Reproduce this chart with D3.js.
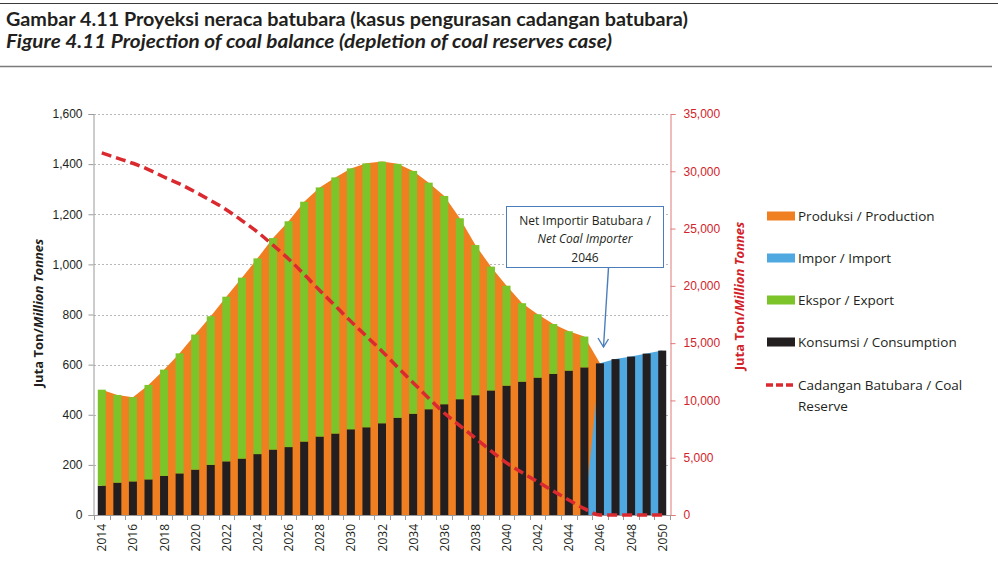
<!DOCTYPE html>
<html>
<head>
<meta charset="utf-8">
<script src="https://cdn.jsdelivr.net/npm/d3@7"></script>
<style>
  body { margin: 0; background: #fff; }
  svg { display: block; font-family: "Open Sans", sans-serif; }
  .title { font-family: Lato, "Open Sans", sans-serif; font-weight: bold; fill: #231f20; }
  .axis-left text, .axis-x text { fill: #231f20; font-size: 12px; }
  .axis-right text { fill: #d2232a; font-size: 12px; }
  .legend text { font-size: 13.5px; fill: #231f20; }
  .note text { font-size: 12px; fill: #231f20; }
</style>
</head>
<body>
<div id="chart"></div>
<script>
const WIDTH = 998;
const HEIGHT = 572;

const years = [2014, 2015, 2016, 2017, 2018, 2019, 2020, 2021, 2022, 2023, 2024, 2025,
    2026, 2027, 2028, 2029, 2030, 2031, 2032, 2033, 2034, 2035, 2036, 2037, 2038,
    2039, 2040, 2041, 2042, 2043, 2044, 2045, 2046, 2047, 2048, 2049, 2050];

// juta ton
const consumption = [117, 129, 134, 142, 156, 166, 181, 200, 214, 225, 243, 261,
    271, 293, 313, 325, 342, 350, 366, 388, 404, 422, 442, 462, 478,
    497, 516, 532, 548, 563, 576, 589, 605, 622, 632, 644, 656];
const exportVals = [383, 350, 336, 377, 424, 479, 539, 593, 657, 722, 781, 844,
    901, 957, 994, 1022, 1041, 1053, 1044, 1013, 969, 904, 831, 722, 599,
    494, 399, 313, 253, 199, 157, 123, 0, 0, 0, 0, 0];
const production = [500, 479, 470, 519, 580, 645, 720, 793, 871, 947, 1024, 1105,
    1172, 1250, 1307, 1347, 1383, 1403, 1410, 1401, 1373, 1326, 1273, 1184, 1077,
    991, 915, 845, 801, 762, 733, 712, 605, 0, 0, 0, 0];
const importVals = [0, 0, 0, 0, 0, 0, 0, 0, 0, 0, 0, 0,
    0, 0, 0, 0, 0, 0, 0, 0, 0, 0, 0, 0, 0,
    0, 0, 0, 0, 0, 0, 0, 605, 622, 632, 644, 656];
// cadangan, juta ton (sumbu kanan)
const reserve = [31600, 31150, 30700, 30150, 29500, 28900, 28200, 27450, 26650, 25700, 24700, 23550,
    22350, 21000, 19600, 18250, 16900, 15600, 14300, 12900, 11550, 10200, 8900, 7800, 6700,
    5600, 4550, 3700, 2900, 2100, 1300, 550, 0, 0, 0, 0, 0];

const leftTicks = [0, 200, 400, 600, 800, 1000, 1200, 1400, 1600];
const rightTicks = [0, 5000, 10000, 15000, 20000, 25000, 30000, 35000];

const legendItems = [
    {label: "Produksi / Production", color: "#f07f21", type: "box"},
    {label: "Impor / Import", color: "#4fa8df", type: "box"},
    {label: "Ekspor / Export", color: "#7dc42a", type: "box"},
    {label: "Konsumsi / Consumption", color: "#231f20", type: "box"},
    {label: ["Cadangan Batubara / Coal", "Reserve"], color: "#da2a2f", type: "line"}
];

const COLORS = {
    production: "#f07f21",
    import: "#4fa8df",
    export: "#7dc42a",
    consumption: "#231f20",
    reserve: "#da2a2f"
};

const PLOT = {left: 94, right: 670, top: 114, bottom: 515};

const rows = years.map((year, i) => ({
    year,
    consumption: consumption[i],
    export: exportVals[i],
    production: production[i],
    import: importVals[i],
    reserve: reserve[i]
}));

const svg = d3.select("#chart").append("svg")
    .attr("width", WIDTH)
    .attr("height", HEIGHT);

// header
svg.append("line")
    .attr("x1", 0).attr("x2", WIDTH)
    .attr("y1", 3.5).attr("y2", 3.5)
    .attr("stroke", "#3a3a3a").attr("stroke-width", 1.2);
svg.append("line")
    .attr("x1", 0).attr("x2", 992)
    .attr("y1", 66.5).attr("y2", 66.5)
    .attr("stroke", "#7a7a7a").attr("stroke-width", 1.5);

svg.append("text")
    .attr("class", "title")
    .attr("x", 6).attr("y", 25.5)
    .attr("font-size", 18.5)
    .attr("textLength", 682)
    .attr("lengthAdjust", "spacingAndGlyphs")
    .text("Gambar 4.11 Proyeksi neraca batubara (kasus pengurasan cadangan batubara)");
svg.append("text")
    .attr("class", "title")
    .attr("x", 6).attr("y", 47.5)
    .attr("font-size", 18.5)
    .attr("font-style", "italic")
    .attr("textLength", 606)
    .attr("lengthAdjust", "spacingAndGlyphs")
    .text("Figure 4.11 Projection of coal balance (depletion of coal reserves case)");

// scales
const x = d3.scaleBand()
    .domain(years)
    .range([PLOT.left, PLOT.right])
    .paddingInner(0.486)
    .paddingOuter(0.243);
const xc = d => x(d) + x.bandwidth() / 2;

const y = d3.scaleLinear().domain([0, 1600]).range([PLOT.bottom, PLOT.top]);
const yR = d3.scaleLinear().domain([0, 35000]).range([PLOT.bottom, PLOT.top]);

// gridlines
svg.append("g").attr("class", "grid")
    .selectAll("line")
    .data(leftTicks.filter(d => d > 0))
    .join("line")
    .attr("x1", PLOT.left).attr("x2", PLOT.right)
    .attr("y1", d => Math.round(y(d)) + 0.5)
    .attr("y2", d => Math.round(y(d)) + 0.5)
    .attr("stroke", "#b8b8b8")
    .attr("stroke-dasharray", "2,2");

// areas
const area = key => d3.area()
    .x(d => xc(d.year))
    .y0(y(0))
    .y1(d => y(d[key]));

svg.append("path")
    .datum(rows)
    .attr("fill", COLORS.production)
    .attr("d", area("production"));
svg.append("path")
    .datum(rows)
    .attr("fill", COLORS.import)
    .attr("d", area("import"));

// stacked bars
const stack = d3.stack().keys(["consumption", "export"]);
const series = stack(rows);

svg.append("g").attr("class", "bars")
    .selectAll("g")
    .data(series)
    .join("g")
    .attr("fill", d => COLORS[d.key])
    .selectAll("rect")
    .data(d => d.filter(p => p[1] > p[0]))
    .join("rect")
    .attr("x", d => x(d.data.year))
    .attr("width", x.bandwidth())
    .attr("y", d => y(d[1]))
    .attr("height", d => y(d[0]) - y(d[1]));

// axes
const gLeft = svg.append("g")
    .attr("class", "axis-left")
    .attr("transform", "translate(" + (PLOT.left - 0.5) + ",0)")
    .call(d3.axisLeft(y).tickValues(leftTicks).tickSize(5).tickPadding(6).tickFormat(d3.format(",")));
gLeft.select(".domain").attr("stroke", "#9a9a9a");
gLeft.selectAll(".tick line").attr("stroke", "#9a9a9a");
gLeft.selectAll("text").attr("font-size", 12);

const gRight = svg.append("g")
    .attr("class", "axis-right")
    .attr("transform", "translate(" + (PLOT.right + 0.5) + ",0)")
    .call(d3.axisRight(yR).tickValues(rightTicks).tickSize(5).tickPadding(8).tickFormat(d3.format(",")));
gRight.select(".domain").attr("stroke", "#e07a7a");
gRight.selectAll(".tick line").attr("stroke", "#e07a7a");
gRight.selectAll("text").attr("font-size", 12);

// x axis: garis, tick di batas kategori, label tahun genap
const gx = svg.append("g").attr("class", "axis-x");
gx.append("line")
    .attr("x1", PLOT.left - 5).attr("x2", PLOT.right)
    .attr("y1", PLOT.bottom + 0.5).attr("y2", PLOT.bottom + 0.5)
    .attr("stroke", "#9a9a9a");
const bounds = years.map(d => xc(d) - x.step() / 2).concat([xc(years[years.length - 1]) + x.step() / 2]);
gx.selectAll("line.tick")
    .data(bounds)
    .join("line")
    .attr("class", "tick")
    .attr("x1", d => Math.round(d) + 0.5).attr("x2", d => Math.round(d) + 0.5)
    .attr("y1", PLOT.bottom).attr("y2", PLOT.bottom + 5)
    .attr("stroke", "#9a9a9a");
gx.selectAll("text")
    .data(years.filter(d => d % 2 === 0))
    .join("text")
    .attr("transform", d => "translate(" + (xc(d) + 4.5) + "," + (PLOT.bottom + 9) + ") rotate(-90)")
    .attr("text-anchor", "end")
    .attr("font-size", 12)
    .text(d => d);

// cadangan
svg.append("path")
    .datum(rows)
    .attr("fill", "none")
    .attr("stroke", COLORS.reserve)
    .attr("stroke-width", 3.5)
    .attr("stroke-dasharray", "10,5")
    .attr("d", d3.line()
        .x(d => xc(d.year))
        .y(d => yR(d.reserve))
        .curve(d3.curveMonotoneX));

// axis titles
const axisTitle = (cx, cy, color) => {
    const t = svg.append("text")
        .attr("transform", "translate(" + cx + "," + cy + ") rotate(-90)")
        .attr("text-anchor", "middle")
        .attr("font-size", 13)
        .attr("font-weight", "bold")
        .attr("fill", color);
    t.append("tspan").text("Juta Ton/");
    t.append("tspan").attr("font-style", "italic").text("Million Tonnes");
};
axisTitle(43, 313, "#231f20");
axisTitle(744, 296, "#d2232a");

// annotation
const note = svg.append("g").attr("class", "note");
note.append("rect")
    .attr("x", 506.5).attr("y", 206.5)
    .attr("width", 157).attr("height", 61)
    .attr("fill", "#fff")
    .attr("stroke", "#4a7ebb");
note.selectAll("text")
    .data(["Net Importir Batubara /", "Net Coal Importer", "2046"])
    .join("text")
    .attr("x", 585)
    .attr("y", (d, i) => 224.5 + i * 18.5)
    .attr("text-anchor", "middle")
    .attr("font-style", (d, i) => i === 1 ? "italic" : null)
    .text(d => d);
const tip = [603.5, 347];
note.append("path")
    .attr("d", d3.line()([[608.5, 267.5], tip]))
    .attr("stroke", "#4a7ebb").attr("stroke-width", 1.4).attr("fill", "none");
note.append("path")
    .attr("d", d3.line()([[598, 338], tip, [608.5, 339]]))
    .attr("stroke", "#4a7ebb").attr("stroke-width", 1.4).attr("fill", "none");

// legend
const legend = svg.append("g").attr("class", "legend")
    .attr("transform", "translate(767,0)");
const legendY = [216, 258, 300, 342, 385];
const li = legend.selectAll("g")
    .data(legendItems)
    .join("g")
    .attr("transform", (d, i) => "translate(0," + legendY[i] + ")");
li.filter(d => d.type === "box")
    .append("rect")
    .attr("x", 0).attr("y", -4.5)
    .attr("width", 28).attr("height", 9)
    .attr("fill", d => d.color);
li.filter(d => d.type === "line")
    .append("line")
    .attr("x1", -1).attr("x2", 29)
    .attr("y1", 0).attr("y2", 0)
    .attr("stroke", d => d.color)
    .attr("stroke-width", 3.5)
    .attr("stroke-dasharray", "7,3");
li.append("text")
    .attr("x", 31)
    .attr("y", 5)
    .selectAll("tspan")
    .data(d => Array.isArray(d.label) ? d.label : [d.label])
    .join("tspan")
    .attr("x", 31)
    .attr("dy", (d, i) => i === 0 ? 0 : 21)
    .text(d => d);
</script>
</body>
</html>
